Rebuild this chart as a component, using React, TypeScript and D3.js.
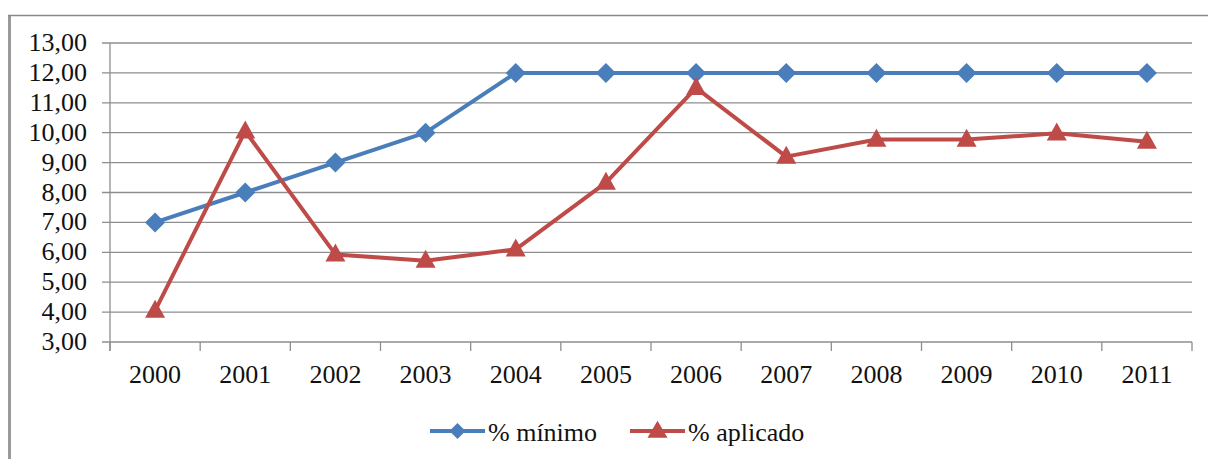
import React from "react";
import * as d3 from "d3";

const years = ["2000","2001","2002","2003","2004","2005","2006","2007","2008","2009","2010","2011"];
const minimo = [7, 8, 9, 10, 12, 12, 12, 12, 12, 12, 12, 12];
const aplicado = [4.05, 10.05, 5.93, 5.72, 6.1, 8.33, 11.5, 9.2, 9.77, 9.77, 9.98, 9.7];
const yTicks = [3, 4, 5, 6, 7, 8, 9, 10, 11, 12, 13];
const seriesNames = ["% mínimo", "% aplicado"];

const W = 1208, H = 459;
const BLUE = "#4A7EBB";
const RED = "#BE4B48";
const GRID = "#8e8e8e";

const x = d3.scaleBand<string>().domain(years).range([110, 1192]).padding(0);
const y = d3.scaleLinear().domain([3, 13]).range([342, 43]);
const fmt = (v: number) => d3.format(".2f")(v).replace(".", ",");
const cx = (yr: string) => (x(yr) as number) + x.bandwidth() / 2;

const line = d3.line<number>()
  .x((_, i) => cx(years[i]))
  .y((d) => y(d));

const diamond = (px: number, py: number, r: number) =>
  `M${px},${py - r}L${px + r},${py}L${px},${py + r}L${px - r},${py}Z`;
const triangle = (px: number, py: number, w: number, h: number) =>
  `M${px},${py - h * 0.6}L${px + w / 2},${py + h * 0.4}L${px - w / 2},${py + h * 0.4}Z`;

const textStyle: React.CSSProperties = { fontFamily: "Liberation Serif", fontSize: 26 };

export default function App() {
  const bw = x.bandwidth();
  const boundaries = d3.range(years.length + 1).map((i) => 110 + i * bw);
  return (
    <svg width={W} height={H} style={{ position: "absolute", left: 0, top: 0, background: "#fff" }}>
      {/* outer frame */}
      <line x1={9.5} y1={15} x2={9.5} y2={H} stroke="#9a9a9a" strokeWidth={3} />
      <line x1={8} y1={15.5} x2={W} y2={15.5} stroke="#8a8a8a" strokeWidth={1.5} />

      {/* gridlines */}
      {yTicks.map((t) => (
        <line key={t} x1={102} x2={1192} y1={y(t)} y2={y(t)} stroke={GRID} strokeWidth={1.3} />
      ))}
      {/* y axis */}
      <line x1={110} x2={110} y1={y(13)} y2={y(3) + 9} stroke={GRID} strokeWidth={1.3} />
      {/* x ticks */}
      {boundaries.map((bx, i) => (
        <line key={i} x1={bx} x2={bx} y1={y(3)} y2={y(3) + 9} stroke={GRID} strokeWidth={1.3} />
      ))}

      {/* y labels */}
      {yTicks.map((t) => (
        <text key={t} x={87} y={y(t) + 8} textAnchor="end" style={textStyle} fill="#111">
          {fmt(t)}
        </text>
      ))}
      {/* x labels */}
      {years.map((yr) => (
        <text key={yr} x={cx(yr)} y={383} textAnchor="middle" style={textStyle} fill="#111">
          {yr}
        </text>
      ))}

      {/* series */}
      <path d={line(minimo) as string} fill="none" stroke={BLUE} strokeWidth={4} strokeLinejoin="round" />
      {minimo.map((v, i) => (
        <path key={i} d={diamond(cx(years[i]), y(v), 10)} fill={BLUE} />
      ))}
      <path d={line(aplicado) as string} fill="none" stroke={RED} strokeWidth={4} strokeLinejoin="round" />
      {aplicado.map((v, i) => (
        <path key={i} d={triangle(cx(years[i]), y(v), 20, 18)} fill={RED} />
      ))}

      {/* legend */}
      <line x1={430} x2={485} y1={431} y2={431} stroke={BLUE} strokeWidth={4} />
      <path d={diamond(457.5, 431, 8)} fill={BLUE} />
      <text x={488} y={441} style={textStyle} fill="#111">{seriesNames[0]}</text>
      <line x1={630} x2={685} y1={431} y2={431} stroke={RED} strokeWidth={4} />
      <path d={triangle(657.5, 431, 20, 17)} fill={RED} />
      <text x={688} y={441} style={textStyle} fill="#111">{seriesNames[1]}</text>
    </svg>
  );
}
